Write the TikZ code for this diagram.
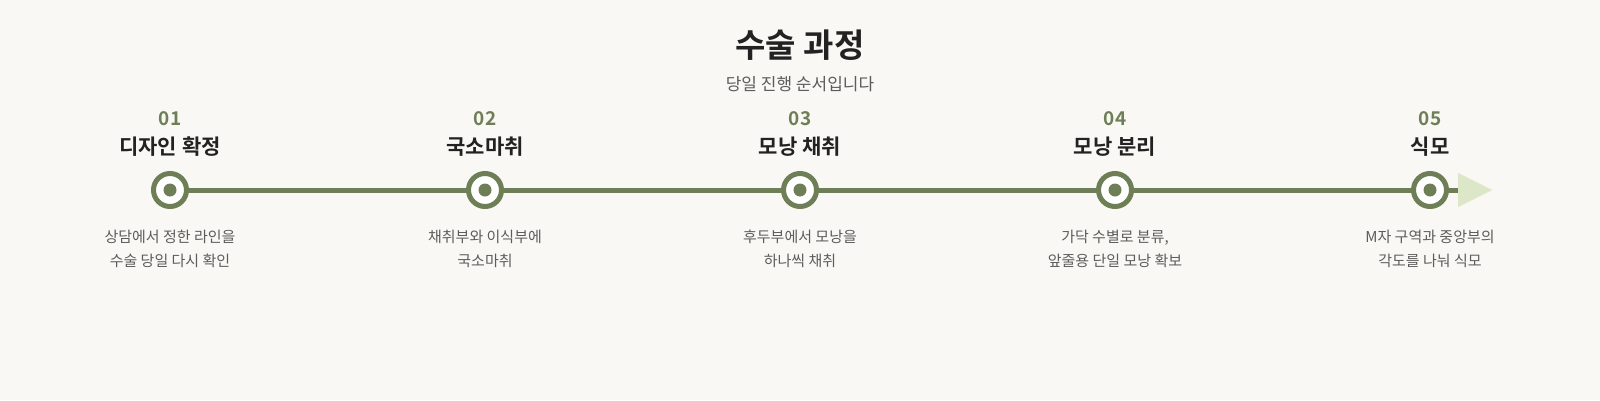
\documentclass[tikz,border=0pt]{standalone}
\usepackage{fontspec}
\setmainfont{Noto Sans CJK KR}[BoldFont={Noto Sans CJK KR Bold}]

\definecolor{paper}{HTML}{F9F8F4}
\definecolor{stemgreen}{HTML}{6E7F57}
\definecolor{tipgreen}{HTML}{DCE7C8}
\definecolor{ink}{HTML}{222222}
\definecolor{greytext}{HTML}{5C5C5C}

\tikzset{
  stepdot/.style={circle, draw=stemgreen, line width=5pt, fill=white, minimum size=33pt, inner sep=0pt},
  stepnum/.style={text=stemgreen, font=\bfseries\fontsize{19}{22}\selectfont},
  stephead/.style={text=ink, font=\bfseries\fontsize{21}{24}\selectfont},
  stepdesc/.style={text=greytext, font=\fontsize{15}{24}\selectfont, align=center},
}

\begin{document}
\begin{tikzpicture}[x=1pt,y=1pt,yscale=-1,xscale=1]
\fill[paper] (0,0) rectangle (1600,400);

% Title
\node (title) at (800,45) [text=ink, font=\bfseries\fontsize{33}{38}\selectfont] {수술 과정};
\node (subtitle) at (800,84) [text=greytext, font=\fontsize{17}{20}\selectfont] {당일 진행 순서입니다};

% Timeline
\coordinate (start) at (170,190);
\coordinate (tipbase) at (1458,190);
\draw [stemgreen, line width=5pt] (start) -- (tipbase);
\fill [tipgreen] (1458,173) -- (1492,190) -- (1458,207) -- cycle;

\foreach \x/\n/\h/\da/\db in {
  170/01/디자인 확정/상담에서 정한 라인을/수술 당일 다시 확인,
  485/02/국소마취/채취부와 이식부에/국소마취,
  800/03/모낭 채취/후두부에서 모낭을/하나씩 채취,
  1115/04/모낭 분리/{가닥 수별로 분류,}/앞줄용 단일 모낭 확보,
  1430/05/식모/M자 구역과 중앙부의/각도를 나눠 식모}
{
  \node [stepdot] (dot\n) at (\x,190) {};
  \fill [stemgreen] (dot\n.center) circle (6.5);
  \node [stepnum] (num\n) at (\x,119) {\n};
  \node [stephead] (head\n) at (\x,146.5) {\h};
  \node [stepdesc] (desc\n) at (\x,248.5) {\da\\\db};
}
\end{tikzpicture}
\end{document}
